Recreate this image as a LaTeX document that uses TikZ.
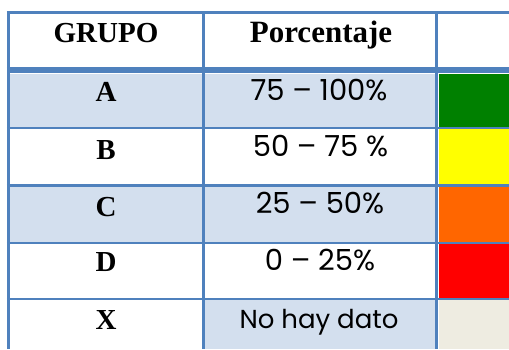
\documentclass[tikz,border=0pt]{standalone}
\usepackage{fontspec}
\setmainfont{Liberation Serif}
\newfontfamily\pctfont{Poppins}
\usepackage{tikz}
\definecolor{tblline}{HTML}{4F81BD}
\definecolor{tblshade}{HTML}{D3DFEE}
\definecolor{gradeA}{HTML}{008000}
\definecolor{gradeB}{HTML}{FFFF00}
\definecolor{gradeC}{HTML}{FF6600}
\definecolor{gradeD}{HTML}{FF0000}
\definecolor{gradeX}{HTML}{EEECE1}
\tikzset{
  tblrule/.style={draw=tblline, line width=2.7pt},
  grup/.style={anchor=base, inner sep=0pt, font=\fontsize{29}{31}\selectfont\bfseries},
  pct/.style={anchor=base, inner sep=0pt, font=\pctfont\fontsize{29}{31}\selectfont}
}
\newcommand{\cellfill}[5]{ \fill[#5] ( #1 , #2 ) rectangle ( #3 , #4 );}
\newcommand{\grupnode}[4]{\node[grup] (#1) at ( #2 , #3 ) {#4};}
\newcommand{\pctnode}[4]{\node[pct] (#1) at ( #2 , #3 ) {#4};}

\begin{document}
\begin{tikzpicture}[x=1pt,y=-1pt]
        \useasboundingbox (0,0) rectangle (509,349);
        % shaded cells
        \cellfill{9.6}{73.7}{202}{126.7}{tblshade}
        \cellfill{204.7}{73.7}{435}{126.7}{tblshade}
        \cellfill{9.6}{186.6}{202}{241.7}{tblshade}
        \cellfill{204.7}{186.6}{435}{241.7}{tblshade}
        \cellfill{204.7}{300.3}{435}{349}{tblshade}
        % colour column
        \cellfill{439}{73.7}{509}{126.7}{gradeA}
        \cellfill{439}{129.3}{509}{184}{gradeB}
        \cellfill{439}{186.6}{509}{241.7}{gradeC}
        \cellfill{439}{244.3}{509}{297.7}{gradeD}
        \cellfill{439}{300.3}{509}{349}{gradeX}
        % vertical rules
        \draw[tblrule] (8.2,11.5) -- (8.2,349);
        \draw[tblrule] (203.3,11.5) -- (203.3,349);
        \draw[tblrule] (436.3,11.5) -- (436.3,349);
        % horizontal rules
        \draw[tblrule] (6.85,12.8) -- (509,12.8);
        \draw[tblrule, line width=5.5pt] (6.85,69.8) -- (509,69.8);
        \draw[tblrule] (6.85,128) -- (509,128);
        \draw[tblrule] (6.85,185.3) -- (509,185.3);
        \draw[tblrule] (6.85,243) -- (509,243);
        \draw[tblrule] (6.85,299) -- (509,299);
        % header
        \grupnode{hgrupo}{106}{42.3}{GRUPO}
        \grupnode{hpct}{321}{42.3}{\fontsize{31}{33}\selectfont Porcentaje}
        % groups
        \grupnode{ga}{106}{101.7}{A}
        \grupnode{gb}{106}{159}{B}
        \grupnode{gc}{106}{216}{C}
        \grupnode{gd}{106}{271.7}{D}
        \grupnode{gx}{106}{329}{X}
        % percentages
        \pctnode{pa}{319}{100.7}{75 – 100\%}
        \pctnode{pb}{320.5}{156}{50 – 75 \%}
        \pctnode{pc}{320}{213.5}{25 – 50\%}
        \pctnode{pd}{320}{270.7}{0 – 25\%}
        \pctnode{px}{319}{328.3}{\fontsize{26}{30}\selectfont No hay dato}
    \end{tikzpicture}
\end{document}
